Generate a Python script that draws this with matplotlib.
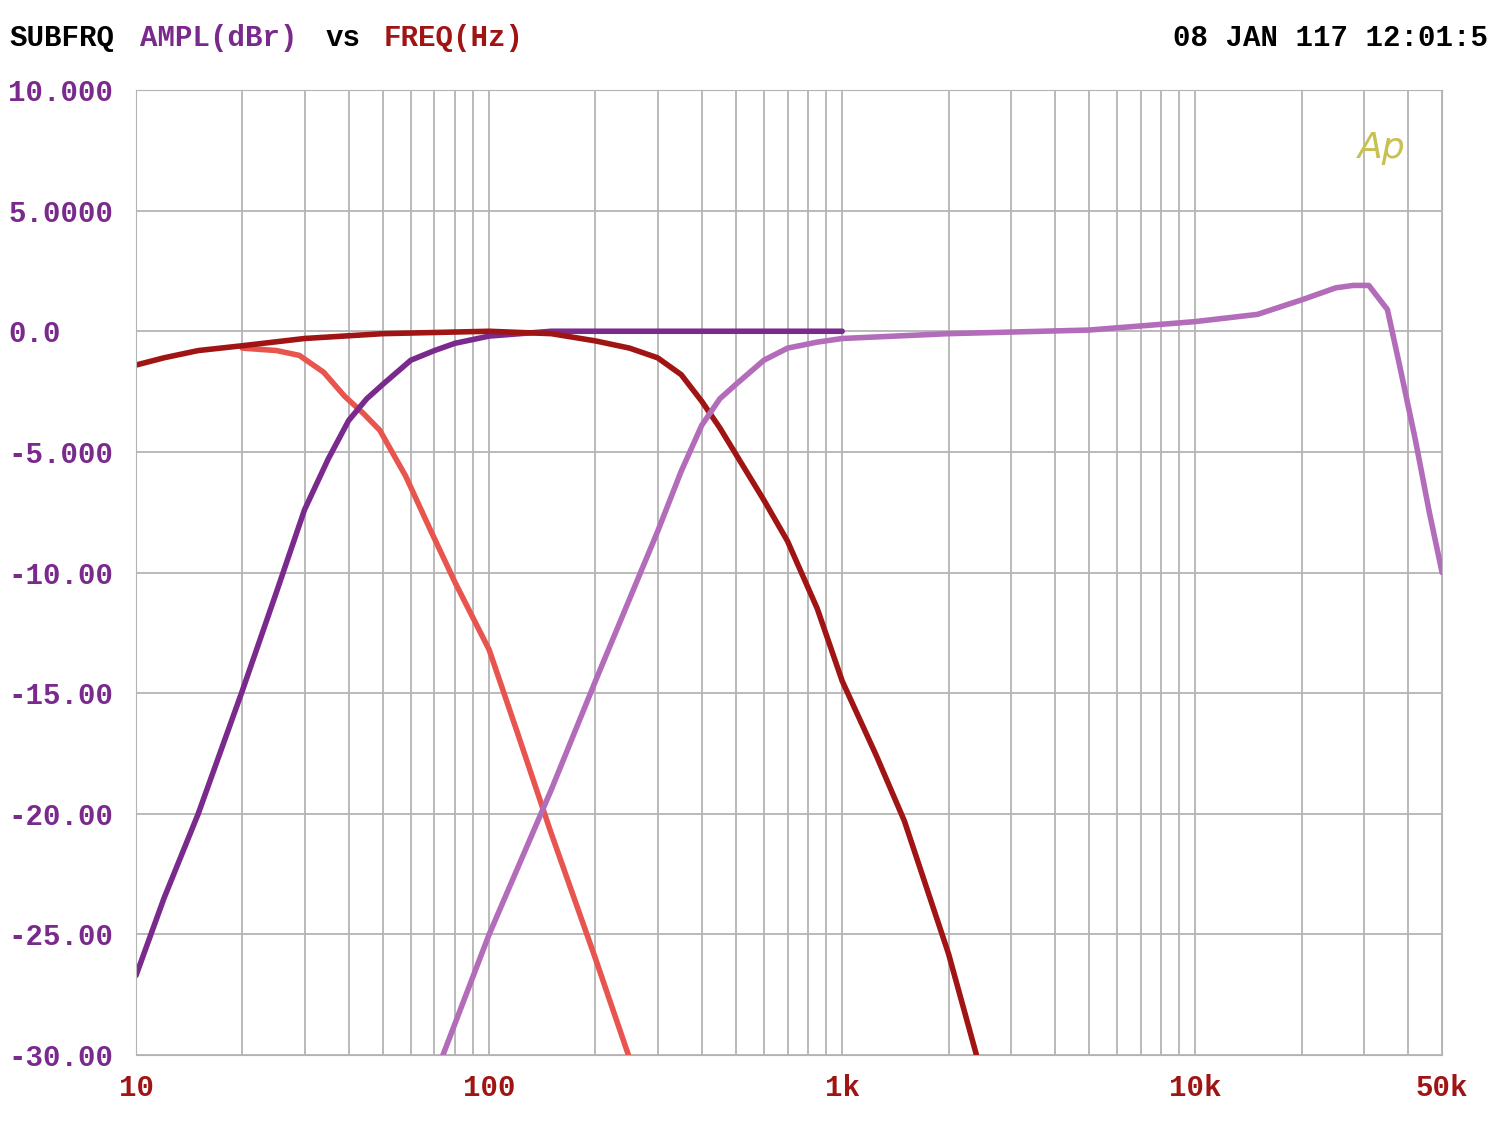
import matplotlib
matplotlib.use("Agg")
import matplotlib.pyplot as plt

lp_f = [20, 25, 29, 34, 39, 44, 49, 58, 68, 80, 100, 120, 149, 200, 248]
lp_db = [-0.7, -0.8, -1.0, -1.7, -2.7, -3.4, -4.1, -6.0, -8.2, -10.4, -13.2, -16.6, -20.7, -26.0, -30.0]

hp1_f = [10, 12, 15, 20, 25, 30, 35, 40, 45, 50, 60, 70, 80, 100, 150, 300, 1000]
hp1_db = [-26.7, -23.5, -20.0, -14.9, -10.8, -7.4, -5.3, -3.7, -2.8, -2.2, -1.2, -0.8, -0.5, -0.2, 0.0, 0.0, 0.0]

bp_f = [10, 12, 15, 20, 30, 50, 100, 150, 200, 250, 300, 350, 400, 450, 500, 600, 700, 850, 1000, 1250, 1500, 2000, 2400]
bp_db = [-1.4, -1.1, -0.8, -0.6, -0.3, -0.1, 0.0, -0.1, -0.4, -0.7, -1.1, -1.8, -2.9, -4.0, -5.1, -7.0, -8.7, -11.5, -14.5, -17.6, -20.3, -25.8, -30.0]

hp2_f = [74, 100, 150, 200, 300, 350, 400, 450, 500, 600, 700, 850, 1000, 2000, 5000, 10000, 15000, 20000, 25000, 28000, 31000, 35000, 38000, 42000, 46000, 50000]
hp2_db = [-30.0, -25.0, -19.0, -14.5, -8.3, -5.8, -3.9, -2.8, -2.2, -1.2, -0.7, -0.45, -0.3, -0.1, 0.05, 0.4, 0.7, 1.3, 1.8, 1.9, 1.9, 0.9, -1.5, -4.5, -7.5, -10.0]

yticks = [10, 5, 0, -5, -10, -15, -20, -25, -30]
ylabels = ["10.000", "5.0000", "0.0", "-5.000", "-10.00", "-15.00", "-20.00", "-25.00", "-30.00"]
xticks = [10, 100, 1000, 10000, 50000]
xlabels = ["10", "100", "1k", "10k", "50k"]

mono = {"family": "Liberation Mono", "weight": "bold"}
fig = plt.figure(figsize=(15, 11.25), dpi=100)
ax = fig.add_axes([0.0907, 0.0622, 0.8707, 0.8578])
ax.set_xscale("log")
ax.set_xlim(10, 50000)
ax.set_ylim(-30, 10)
minors = [m * 10**d for d in range(1, 5) for m in range(1, 10) if m * 10**d <= 50000]
for f in minors:
    ax.axvline(f, color="#b4b4b4", lw=1.3, zorder=0)
for y in yticks:
    ax.axhline(y, color="#b4b4b4", lw=1.3, zorder=0)
kw = dict(lw=4, solid_joinstyle="round", solid_capstyle="round")
ax.plot(lp_f, lp_db, color="#e8544e", **kw)
ax.plot(hp1_f, hp1_db, color="#7a2a8c", **kw)
ax.plot(bp_f, bp_db, color="#a01414", **kw)
ax.plot(hp2_f, hp2_db, color="#b26cba", **kw)
ax.set_yticks(yticks)
ax.set_yticklabels(ylabels, color="#7a2a8c", fontsize=21, **mono)
for t in ax.get_yticklabels():
    t.set_horizontalalignment("left")
ax.set_xticks(xticks)
ax.set_xticklabels(xlabels, color="#a01414", fontsize=21, **mono)
ax.xaxis.set_minor_locator(matplotlib.ticker.NullLocator())
ax.tick_params(length=0, pad=14)
ax.tick_params(axis="y", pad=92)
for s in ax.spines.values():
    s.set_color("#b4b4b4")
ax.text(0.972, 0.94, "Ap", transform=ax.transAxes, color="#c8c050", fontsize=26, ha="right", va="center", style="italic")

fig.text(0.006, 0.966, "SUBFRQ", color="black", fontsize=21, va="center", **mono)
fig.text(0.093, 0.966, "AMPL(dBr)", color="#7a2a8c", fontsize=21, va="center", **mono)
fig.text(0.217, 0.966, "vs", color="black", fontsize=21, va="center", **mono)
fig.text(0.256, 0.966, "FREQ(Hz)", color="#a01414", fontsize=21, va="center", **mono)
fig.text(0.992, 0.966, "08 JAN 117 12:01:5", color="black", fontsize=21, va="center", ha="right", **mono)
fig.savefig("out.png")
